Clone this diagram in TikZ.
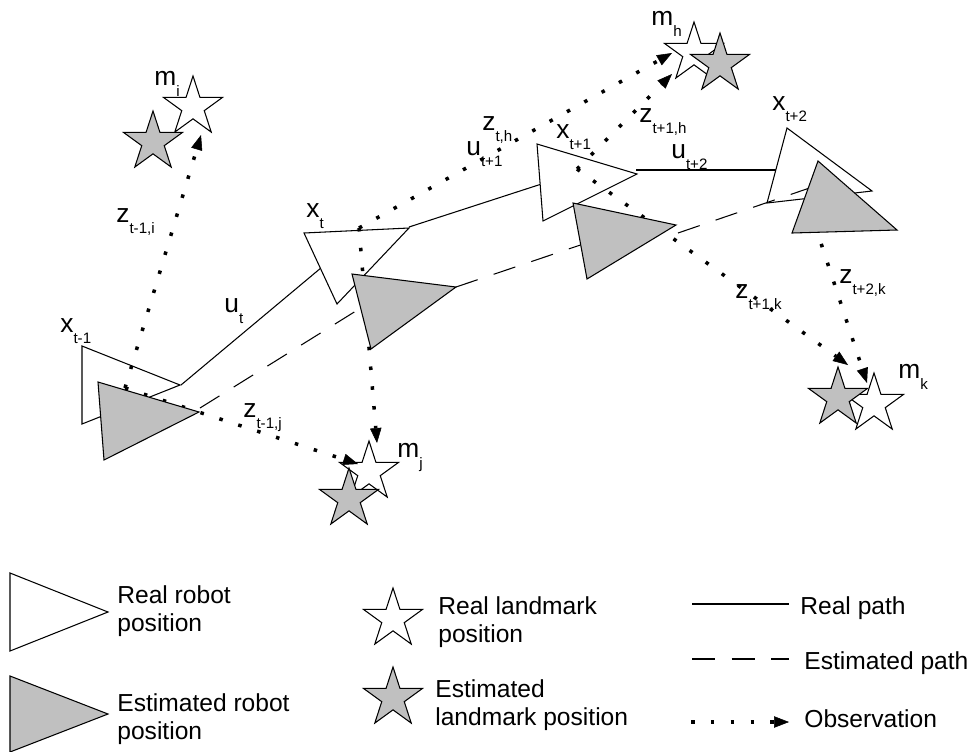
\documentclass[tikz,border=0pt]{standalone}
\usepackage{fontspec}
\setmainfont{Liberation Sans}
\usetikzlibrary{shapes.geometric,arrows.meta}
\definecolor{estgray}{RGB}{192,192,192}
\newcommand{\symlbl}[2]{#1\raisebox{-6.5pt}{\fontsize{8.6}{10}\selectfont #2}}
\tikzset{
  lbl/.style={inner sep=0pt, anchor=base west, font=\fontsize{15}{18}\selectfont},
  legtext/.style={inner sep=0pt, anchor=base west, align=left, font=\fontsize{14}{15.9}\selectfont},
  realbot/.style={draw, fill=white, line width=0.6pt},
  estbot/.style={draw, fill=estgray, line width=0.6pt},
  realmark/.style={star, star points=5, star point ratio=2.618, minimum size=1.24cm, inner sep=0pt, draw, fill=white, line width=0.6pt},
  estmark/.style={realmark, fill=estgray},
  realpath/.style={line width=0.6pt},
  estpath/.style={line width=0.6pt, dash pattern=on 13pt off 9.6pt},
  obs/.style={line width=2pt, dash pattern=on 2pt off 9.3pt, -{Triangle[length=8.5pt,width=6.5pt,line width=0.3pt]}}
}
\begin{document}
\begin{tikzpicture}[x=0.02cm,y=-0.02cm]
\useasboundingbox (0,0) rectangle (972,751);
% path ends
\coordinate (rp0) at (181,385);
\coordinate (rp1) at (340,252);
\coordinate (rp2) at (409,227);
\coordinate (rp3) at (560,178);
\coordinate (rp4) at (636,170);
\coordinate (rp5) at (800,170);
\coordinate (ep0) at (200,408);
\coordinate (ep1) at (380,296);
\coordinate (ep2) at (456,287);
\coordinate (ep3) at (610,235);
\coordinate (ep4) at (678,233);
\coordinate (ep5) at (830,181);
% observation ends
\coordinate (o1) at (125,388);
\coordinate (o2) at (359,228);
\coordinate (o3) at (577,169);
\coordinate (o4) at (815,225);
\coordinate (ti) at (201,135);
\coordinate (tj1) at (358,464);
\coordinate (tj2) at (377,443);
\coordinate (th1) at (672,53);
\coordinate (th2) at (672,74);
\coordinate (tk1) at (848,365);
\coordinate (tk2) at (867,383);

\draw[realpath] (rp0) -- (rp1);
\draw[realpath] (rp2) -- (rp3);
\draw[realpath] (rp4) -- (rp5);

\draw[realbot] (82,346) -- (180,385) -- (82,424) -- cycle;
\draw[realbot] (304,233) -- (409,228) -- (337,304) -- cycle;
\draw[realbot] (537,144) -- (637,174) -- (543,221) -- cycle;
\draw[realbot] (787,128) -- (872,191) -- (767,203) -- cycle;

\draw[estpath] (ep0) -- (ep1);
\draw[estpath] (ep2) -- (ep3);
\draw[estpath] (ep4) -- (ep5);

\node[realmark] (mi) at (193,107) {};
\node[estmark] (mie) at (153,142) {};
\node[realmark] (mh) at (694,53) {};
\node[estmark] (mhe) at (720,64) {};
\node[realmark] (mj) at (369,472) {};
\node[estmark] (mje) at (349,499) {};
\node[realmark] (mk) at (874,404) {};
\node[estmark] (mke) at (838,398) {};

\draw[obs] (o1) -- (ti);
\draw[obs] (o1) -- (tj1);
\draw[obs] (o2) -- (tj2);
\draw[obs] (o2) -- (th1);
\draw[obs] (o3) -- (th2);
\draw[obs] (o3) -- (tk1);
\draw[obs] (o4) -- (tk2);

\draw[estbot] (98,382) -- (199,412) -- (104,460) -- cycle;
\draw[estbot] (352,274) -- (456,287) -- (371,349) -- cycle;
\draw[estbot] (573,203) -- (676,225) -- (587,279) -- cycle;
\draw[estbot] (818,161) -- (897,230) -- (792,233) -- cycle;

\node[lbl] (lxa) at (60,332) {\symlbl{x}{t-1}};
\node[lbl] (lxb) at (306,217) {\symlbl{x}{t}};
\node[lbl] (lxc) at (556,138) {\symlbl{x}{t+1}};
\node[lbl] (lxd) at (772,110) {\symlbl{x}{t+2}};
\node[lbl] (lua) at (224,312) {\symlbl{u}{t}};
\node[lbl] (lub) at (466,155) {\symlbl{u}{t+1}};
\node[lbl] (luc) at (671,158) {\symlbl{u}{t+2}};
\node[lbl] (lzi) at (116,222) {\symlbl{z}{t-1,i}};
\node[lbl] (lzj) at (243,417) {\symlbl{z}{t-1,j}};
\node[lbl] (lzh) at (482,130) {\symlbl{z}{t,h}};
\node[lbl] (lzh2) at (639,122) {\symlbl{z}{t+1,h}};
\node[lbl] (lzk) at (735,298) {\symlbl{z}{t+1,k}};
\node[lbl] (lzk2) at (839,283) {\symlbl{z}{t+2,k}};
\node[lbl] (lmi) at (154,85) {\symlbl{m}{i}};
\node[lbl] (lmh) at (651,25) {\symlbl{m}{h}};
\node[lbl] (lmj) at (397,457) {\symlbl{m}{j}};
\node[lbl] (lmk) at (898,378) {\symlbl{m}{k}};

% legend
\draw[realbot] (10,573) -- (108,612) -- (10,651) -- cycle;
\draw[estbot] (10,676) -- (108,714) -- (10,752) -- cycle;
\node[legtext] (leg1) at (117,631) {Real robot\\position};
\node[legtext] (leg2) at (117,739) {Estimated robot\\position};
\node[realmark] (legm1) at (393,619) {};
\node[estmark] (legm2) at (393,698) {};
\node[legtext] (leg3) at (438,642) {Real landmark\\position};
\node[legtext] (leg4) at (435,725) {Estimated\\landmark position};
\coordinate (la0) at (692,604);
\coordinate (la1) at (789,604);
\coordinate (lb0) at (692,659);
\coordinate (lb1) at (789,659);
\coordinate (lc0) at (691,722);
\coordinate (lc1) at (789,722);
\draw[realpath] (la0) -- (la1);
\draw[estpath] (lb0) -- (lb1);
\draw[obs] (lc0) -- (lc1);
\node[legtext] (leg5) at (800,614) {Real path};
\node[legtext] (leg6) at (804,669) {Estimated path};
\node[legtext] (leg7) at (804,727) {Observation};
\end{tikzpicture}
\end{document}
